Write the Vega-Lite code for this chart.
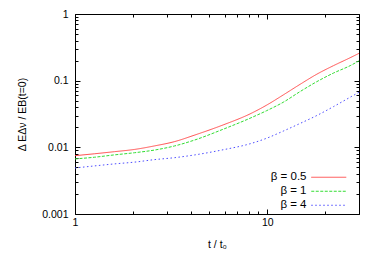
{
  "$schema": "https://vega.github.io/schema/vega-lite/v6.json",
  "width": 284,
  "height": 200,
  "autosize": "none",
  "padding": {"left": 75, "top": 14, "right": 23, "bottom": 53},
  "background": "white",
  "config": {
    "view": {"stroke": "black", "strokeWidth": 1},
    "font": "Liberation Sans",
    "axis": {
      "domain": false,
      "grid": false,
      "tickColor": "black",
      "tickWidth": 1,
      "labelColor": "black",
      "labelFontSize": 10.5,
      "labelFont": "Liberation Sans",
      "titleColor": "black",
      "titleFont": "Liberation Sans",
      "titleFontSize": 10.5,
      "titleFontWeight": "normal",
      "labelFlush": false,
      "labelOverlap": false
    },
    "legend": {
      "orient": "none",
      "legendX": 248,
      "legendY": 157.5,
      "padding": 0,
      "symbolType": "M-5,0H5",
      "symbolSize": 49,
      "symbolStrokeWidth": 1,
      "labelAlign": "right",
      "labelOffset": -28,
      "labelFontSize": 11.5,
      "labelFont": "Liberation Sans",
      "labelColor": "black",
      "rowPadding": 1
    }
  },
  "data": {
    "values": [
      {"t": 1, "E": 0.0075, "beta": "β = 0.5"},
      {"t": 1.26, "E": 0.008, "beta": "β = 0.5"},
      {"t": 1.6, "E": 0.0086, "beta": "β = 0.5"},
      {"t": 2.04, "E": 0.0093, "beta": "β = 0.5"},
      {"t": 2.59, "E": 0.0105, "beta": "β = 0.5"},
      {"t": 3.3, "E": 0.0122, "beta": "β = 0.5"},
      {"t": 4.2, "E": 0.0153, "beta": "β = 0.5"},
      {"t": 5.9, "E": 0.0217, "beta": "β = 0.5"},
      {"t": 8.13, "E": 0.0317, "beta": "β = 0.5"},
      {"t": 9.93, "E": 0.043, "beta": "β = 0.5"},
      {"t": 12.1, "E": 0.061, "beta": "β = 0.5"},
      {"t": 14.8, "E": 0.088, "beta": "β = 0.5"},
      {"t": 18.1, "E": 0.125, "beta": "β = 0.5"},
      {"t": 22.1, "E": 0.168, "beta": "β = 0.5"},
      {"t": 27, "E": 0.221, "beta": "β = 0.5"},
      {"t": 30, "E": 0.257, "beta": "β = 0.5"},
      {"t": 1, "E": 0.0067, "beta": "β = 1"},
      {"t": 1.26, "E": 0.0071, "beta": "β = 1"},
      {"t": 1.6, "E": 0.0077, "beta": "β = 1"},
      {"t": 2.04, "E": 0.0083, "beta": "β = 1"},
      {"t": 2.59, "E": 0.0091, "beta": "β = 1"},
      {"t": 3.3, "E": 0.0105, "beta": "β = 1"},
      {"t": 4.2, "E": 0.0129, "beta": "β = 1"},
      {"t": 5.9, "E": 0.0187, "beta": "β = 1"},
      {"t": 8.13, "E": 0.0273, "beta": "β = 1"},
      {"t": 9.93, "E": 0.0355, "beta": "β = 1"},
      {"t": 12.1, "E": 0.0474, "beta": "β = 1"},
      {"t": 14.8, "E": 0.0685, "beta": "β = 1"},
      {"t": 18.1, "E": 0.0966, "beta": "β = 1"},
      {"t": 22.1, "E": 0.13, "beta": "β = 1"},
      {"t": 27, "E": 0.168, "beta": "β = 1"},
      {"t": 30, "E": 0.198, "beta": "β = 1"},
      {"t": 1, "E": 0.0049, "beta": "β = 4"},
      {"t": 1.26, "E": 0.00526, "beta": "β = 4"},
      {"t": 1.6, "E": 0.00564, "beta": "β = 4"},
      {"t": 2.04, "E": 0.006, "beta": "β = 4"},
      {"t": 2.59, "E": 0.00654, "beta": "β = 4"},
      {"t": 3.3, "E": 0.007, "beta": "β = 4"},
      {"t": 4.2, "E": 0.0077, "beta": "β = 4"},
      {"t": 5.9, "E": 0.0092, "beta": "β = 4"},
      {"t": 8.13, "E": 0.0113, "beta": "β = 4"},
      {"t": 9.93, "E": 0.0137, "beta": "β = 4"},
      {"t": 12.1, "E": 0.0175, "beta": "β = 4"},
      {"t": 14.8, "E": 0.0228, "beta": "β = 4"},
      {"t": 18.1, "E": 0.03, "beta": "β = 4"},
      {"t": 22.1, "E": 0.0408, "beta": "β = 4"},
      {"t": 27, "E": 0.0565, "beta": "β = 4"},
      {"t": 30, "E": 0.067, "beta": "β = 4"}
    ]
  },
  "layer": [
    {
      "mark": {"type": "line", "strokeWidth": 1, "interpolate": "monotone", "clip": true},
      "encoding": {
        "x": {
          "field": "t", "type": "quantitative",
          "scale": {"type": "log", "domain": [1, 30], "nice": false},
          "axis": {
            "orient": "bottom",
            "title": "t / t₀",
            "titlePadding": 10,
            "values": [1, 2, 3, 4, 5, 6, 7, 8, 9, 10, 20, 30],
            "format": "~g",
            "labelExpr": "datum.value == 1 || datum.value == 10 ? datum.label : ''",
            "tickSize": {"condition": {"test": "datum.value == 1 || datum.value == 10", "value": -5}, "value": -3},
            "labelPadding": 8
          }
        },
        "y": {
          "field": "E", "type": "quantitative",
          "scale": {"type": "log", "domain": [0.001, 1], "nice": false},
          "axis": {
            "orient": "left",
            "title": "Δ EΔν / EB(t=0)",
            "titlePadding": 14,
            "values": [0.001, 0.002, 0.003, 0.004, 0.005, 0.006, 0.007, 0.008, 0.009, 0.01, 0.02, 0.03, 0.04, 0.05, 0.06, 0.07, 0.08, 0.09, 0.1, 0.2, 0.3, 0.4, 0.5, 0.6, 0.7, 0.8, 0.9, 1],
            "format": "~g",
            "labelExpr": "datum.value == 0.001 || datum.value == 0.01 || datum.value == 0.1 || datum.value == 1 ? datum.label : ''",
            "tickSize": {"condition": {"test": "datum.value == 0.001 || datum.value == 0.01 || datum.value == 0.1 || datum.value == 1", "value": -5}, "value": -3},
            "labelPadding": 12
          }
        },
        "color": {
          "field": "beta", "type": "nominal",
          "scale": {"domain": ["β = 0.5", "β = 1", "β = 4"], "range": ["#ff4d4d", "#33dd33", "#4d4dff"]},
          "legend": {"title": null}
        },
        "strokeDash": {
          "field": "beta", "type": "nominal",
          "scale": {"domain": ["β = 0.5", "β = 1", "β = 4"], "range": [[1, 0], [3, 1.5], [1.5, 2.5]]},
          "legend": {"title": null}
        }
      }
    },
    {
      "mark": {"type": "point", "opacity": 0},
      "encoding": {
        "x": {
          "field": "t", "type": "quantitative",
          "axis": {
            "orient": "top",
            "title": null,
            "values": [1, 2, 3, 4, 5, 6, 7, 8, 9, 10, 20, 30],
            "labels": false,
            "tickSize": {"condition": {"test": "datum.value == 1 || datum.value == 10", "value": -5}, "value": -3}
          }
        },
        "y": {
          "field": "E", "type": "quantitative",
          "axis": {
            "orient": "right",
            "title": null,
            "values": [0.001, 0.002, 0.003, 0.004, 0.005, 0.006, 0.007, 0.008, 0.009, 0.01, 0.02, 0.03, 0.04, 0.05, 0.06, 0.07, 0.08, 0.09, 0.1, 0.2, 0.3, 0.4, 0.5, 0.6, 0.7, 0.8, 0.9, 1],
            "labels": false,
            "tickSize": {"condition": {"test": "datum.value == 0.001 || datum.value == 0.01 || datum.value == 0.1 || datum.value == 1", "value": -5}, "value": -3}
          }
        }
      }
    }
  ],
  "resolve": {"axis": {"x": "independent", "y": "independent"}}
}
